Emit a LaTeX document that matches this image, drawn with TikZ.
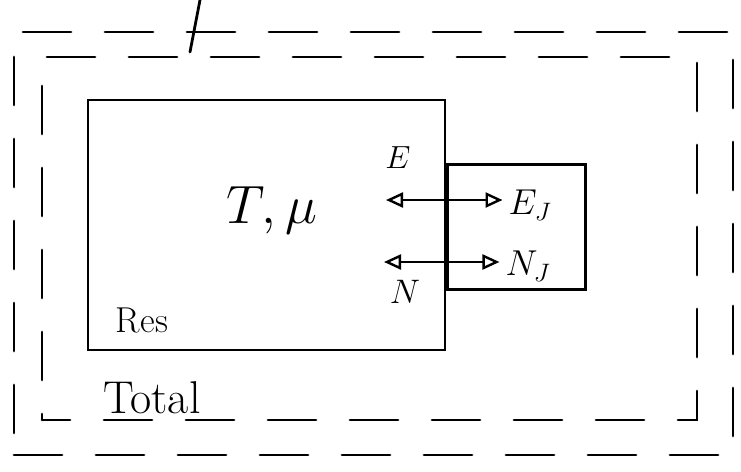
\RequirePackage{fix-cm}
\documentclass[tikz,border=0pt]{standalone}
\usetikzlibrary{arrows.meta}
\begin{document}
\begin{tikzpicture}[x=1pt,y=-1pt,
  ink/.style={line width=2.8pt,line cap=round,black},
  dashline/.style={ink,dash pattern=on 48pt off 34pt},
  box/.style={draw,ink,rectangle,inner sep=0pt},
  lab/.style={inner sep=0pt},
  tip/.style={},
  link/.style={line width=2.6pt,{Triangle[open,length=17pt,width=15pt,line width=2.4pt]}-{Triangle[open,length=17pt,width=15pt,line width=2.4pt]}}
]
\useasboundingbox (0,0) rectangle (741,471);
% outer system boundary (double dashed)
\node[box,dashline,minimum width=719pt,minimum height=423pt] (outer) at (373.5,243.5) {};
\node[box,dashline,minimum width=655pt,minimum height=363pt,dash phase=20pt] (inner) at (369.5,238.5) {};
% wall line at top
\coordinate (wt) at (200,0);
\coordinate (wb) at (190,52);
\draw[ink] (wt) -- (wb);
% reservoir
\node[box,minimum width=357pt,minimum height=250pt] (res) at (266.5,225) {};
% small system
\node[box,minimum width=138pt,minimum height=125pt,anchor=north west] (sys) at (res.east |- 0,163) {};
% labels
\node[lab,font=\fontsize{54}{60}\selectfont] (T) at (272,210) {$T,\mu$};
\node[lab,font=\fontsize{36}{40}\selectfont] (res lab) at (142,320) {Res};
\node[lab,font=\fontsize{46}{50}\selectfont] (tot) at (152,398) {Total};
\node[lab,font=\fontsize{32}{36}\selectfont] (E) at (398,158) {$E$};
\node[lab,font=\fontsize{34}{36}\selectfont] (N) at (405,292) {$N$};
\node[lab,font=\fontsize{36}{40}\selectfont] (EJ) at (530,205) {$E_J$};
\node[lab,font=\fontsize{36}{40}\selectfont] (NJ) at (528,266) {$N_J$};
% exchange arrows
\coordinate (ea) at (386,200);
\coordinate (na) at (384,262);
\draw[link] (ea) -- ([xshift=-6pt]EJ.west |- ea);
\draw[link] (na) -- ([xshift=-6pt]NJ.west |- na);
\end{tikzpicture}
\end{document}
